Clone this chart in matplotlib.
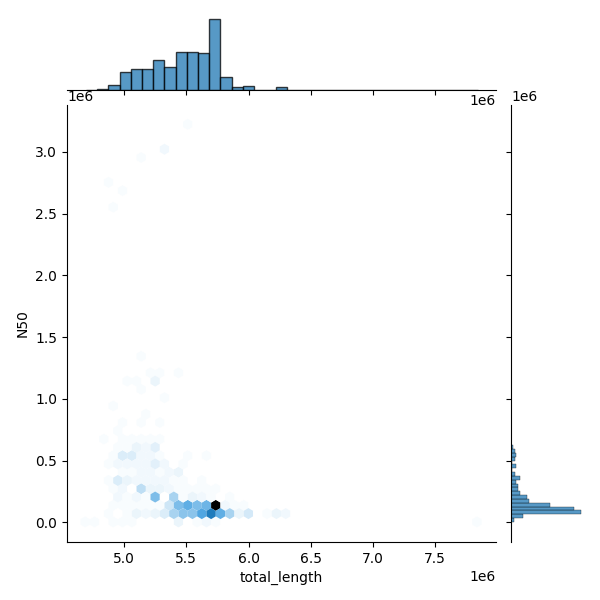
import colorsys
import numpy as np
import matplotlib
matplotlib.use("Agg")
import matplotlib.pyplot as plt
from matplotlib.colors import LinearSegmentedColormap, to_rgb

# hex cells, one list per row (N50 and total_length in millions)
n50_rows = [0.003, 0.070, 0.137, 0.204, 0.271, 0.339, 0.406, 0.473, 0.540,
            0.607, 0.674, 0.741, 0.808, 0.875, 0.942, 1.009, 1.077, 1.144,
            1.211, 1.346, 2.554, 2.687, 2.751, 2.954, 3.016, 3.223]
lengths_by_row = [
    [4.6865, 4.7615, 4.9115, 4.9865, 5.0615, 5.4365, 5.5865, 5.6615, 5.7365, 7.8365],
    [4.874, 5.024, 5.099, 5.174, 5.249, 5.324, 5.399, 5.474, 5.549, 5.624, 5.699, 5.774, 5.849,
     5.924, 5.999, 6.149, 6.224, 6.299],
    [4.9115, 4.9865, 5.0615, 5.1365, 5.2115, 5.2865, 5.3615, 5.4365, 5.5115, 5.5865, 5.6615,
     5.7365, 5.8115, 5.8865, 5.9615],
    [4.949, 5.024, 5.099, 5.174, 5.249, 5.399, 5.474, 5.549, 5.624, 5.699, 5.849],
    [4.9115, 4.9865, 5.1365, 5.2115, 5.2865, 5.3615, 5.4365, 5.5115, 5.5865, 5.6615, 5.7365],
    [4.874, 4.949, 5.024, 5.099, 5.174, 5.249, 5.324, 5.399, 5.474, 5.624],
    [4.9865, 5.0615, 5.1365, 5.2115, 5.2865, 5.3615, 5.4365],
    [4.874, 4.949, 5.024, 5.099, 5.174, 5.249, 5.324, 5.474],
    [4.9115, 4.9865, 5.0615, 5.1365, 5.2115, 5.2865, 5.5115, 5.6615],
    [4.949, 5.024, 5.099, 5.174, 5.249],
    [4.8365, 4.9865, 5.0615, 5.1365, 5.2115, 5.2865],
    [4.949],
    [4.9865, 5.1365, 5.2865],
    [5.174],
    [4.9115],
    [5.324],
    [5.1365],
    [5.024, 5.099, 5.249],
    [5.2115, 5.2865, 5.4365],
    [5.1365],
    [4.9115],
    [4.9865],
    [4.874],
    [5.1365],
    [5.324],
    [5.5115],
]
counts_by_row = [
    [1, 1, 1, 1, 1, 3, 1, 2, 1, 1],
    [1, 1, 3, 2, 3, 5, 12, 16, 16, 24, 34, 22, 12, 3, 6, 1, 3, 2],
    [1, 1, 1, 1, 1, 1, 7, 18, 22, 18, 20, 60, 2, 1, 1],
    [2, 1, 2, 1, 18, 12, 1, 3, 2, 1, 1],
    [1, 2, 9, 3, 3, 2, 1, 1, 1, 1, 1],
    [1, 5, 3, 2, 2, 2, 2, 1, 1, 1],
    [1, 1, 2, 2, 1, 2, 3],
    [1, 2, 2, 2, 2, 4, 2, 1],
    [1, 5, 5, 2, 2, 1, 1, 1],
    [1, 1, 3, 2, 4],
    [1, 1, 1, 1, 1, 1],
    [1],
    [1, 1, 1],
    [1],
    [1],
    [1],
    [1],
    [1, 1, 3],
    [1, 1, 1],
    [1],
    [1],
    [1],
    [1],
    [1],
    [2],
    [1],
]

# marginal histograms, in genomes per bin
top_start = 4.693
top_width = 0.09
top_counts = [0, 2, 12, 40, 46, 46, 68, 52, 84, 84, 82, 158, 28, 6, 8, 0, 0, 6,
              0, 0, 0, 0, 0, 0, 0, 0, 0, 0, 0, 0, 0, 0, 0, 0, 1]
right_start = 0.003
right_width = 0.031
right_counts = [8, 32, 180, 162, 100, 46, 40, 22, 18, 18, 14, 22, 10, 2, 14, 2, 10, 14, 10, 6,
                1, 1, 1, 0, 0, 0, 1, 0, 0, 0, 0, 0, 0, 0, 0, 1, 1, 1, 1]

total_length = []
n50 = []
cell_count = []
for y, xs, ns in zip(n50_rows, lengths_by_row, counts_by_row):
    total_length += [x * 1e6 for x in xs]
    n50 += [y * 1e6] * len(xs)
    cell_count += ns
total_length = np.repeat(total_length, cell_count)
n50 = np.repeat(n50, cell_count)

h, l, s = colorsys.rgb_to_hls(*to_rgb("C0"))
ramp = [colorsys.hls_to_rgb(h, v, s) for v in np.linspace(1, 0, 12)]
cmap = LinearSegmentedColormap.from_list("blend", ramp)

fig = plt.figure(figsize=(6, 6), dpi=100)
ax = fig.add_axes([67 / 600, 1 - 542 / 600, 429 / 600, 437 / 600])
ax_top = fig.add_axes([67 / 600, 1 - 90 / 600, 429 / 600, 74.2 / 600], sharex=ax)
ax_right = fig.add_axes([511 / 600, 1 - 542 / 600, 73.5 / 600, 437 / 600], sharey=ax)

ax.hexbin(total_length, n50, gridsize=42, cmap=cmap, linewidths=0)

top_edges = (top_start + top_width * np.arange(len(top_counts) + 1)) * 1e6
right_edges = (right_start + right_width * np.arange(len(right_counts) + 1)) * 1e6
ax_top.hist(top_edges[:-1], bins=top_edges, weights=top_counts, color="C0", alpha=0.75,
            edgecolor="black", linewidth=1)
ax_right.hist(right_edges[:-1], bins=right_edges, weights=right_counts, color="C0", alpha=0.75,
              edgecolor="black", linewidth=0.3, orientation="horizontal")

ax.set_xlim(4.54e6, 7.99e6)
ax.set_ylim(-0.16e6, 3.38e6)
ax.set_xlabel("total_length")
ax.set_ylabel("N50")
ax.spines[["top", "right"]].set_visible(False)

ax_top.spines[["top", "right", "left"]].set_visible(False)
plt.setp(ax_top.get_xticklabels(), visible=False)
ax_top.tick_params(axis="y", left=False, labelleft=False)
ax_right.spines[["top", "right", "bottom"]].set_visible(False)
plt.setp(ax_right.get_yticklabels(), visible=False)
ax_right.tick_params(axis="x", bottom=False, labelbottom=False)

fig.savefig("out.png", dpi=100)
